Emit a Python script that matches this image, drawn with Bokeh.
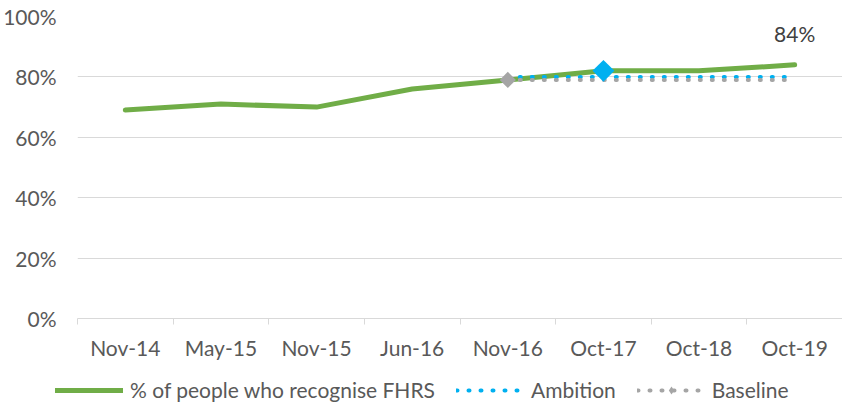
from bokeh.plotting import figure
from bokeh.layouts import column
from bokeh.models import Range1d, FixedTicker, Legend, LegendItem, Label
from bokeh.embed import file_html
from bokeh.resources import INLINE
import math

# ---- data ----
categories = ["Nov-14", "May-15", "Nov-15", "Jun-16", "Nov-16", "Oct-17", "Oct-18", "Oct-19"]
recognise = [69, 71, 70, 76, 79, 82, 82, 84]
target_categories = ["Nov-16", "Oct-17", "Oct-18", "Oct-19"]
ambition = [80, 80, 80, 80]
baseline = [79, 79, 79, 79]
highlight_category = "Oct-17"
y_ticks = [0, 20, 40, 60, 80, 100]
series_names = ["% of people who recognise FHRS", "Ambition", "Baseline"]

FONT = "Lato"
FS = "21px"
GREEN = "#70AD47"
BLUE = "#00B0F0"
GREY = "#A5A5A5"
TXT = "#595959"
GRID = "#D9D9D9"

def xpos(cat):
    return categories.index(cat) + 0.5

x_all = [xpos(c) for c in categories]
x_target = [xpos(c) for c in target_categories]

p = figure(width=842, height=372, output_backend="svg", toolbar_location=None,
           x_range=Range1d(0, len(categories)), y_range=Range1d(0, 100),
           min_border_left=77, min_border_right=0, min_border_top=16, min_border_bottom=54)
p.outline_line_color = None
p.xgrid.grid_line_color = None
p.ygrid.grid_line_color = GRID
p.ygrid.grid_line_width = 1

# x axis: ticks at category boundaries, labels at centres
xa = p.xaxis[0]
xa.ticker = FixedTicker(ticks=x_all, minor_ticks=list(range(len(categories) + 1)))
xa.major_label_overrides = {x: c for x, c in zip(x_all, categories)}
xa.axis_line_color = GRID
xa.major_tick_line_color = None
xa.major_tick_out = 6
xa.major_tick_in = 0
xa.minor_tick_line_color = GRID
xa.minor_tick_out = 6
xa.minor_tick_in = 0
xa.major_label_standoff = 10
xa.major_label_text_font = FONT
xa.major_label_text_font_size = FS
xa.major_label_text_color = TXT

ya = p.yaxis[0]
ya.ticker = FixedTicker(ticks=y_ticks)
ya.major_label_overrides = {t: f"{t}%" for t in y_ticks}
ya.axis_line_color = None
ya.major_tick_line_color = None
ya.minor_tick_line_color = None
ya.major_tick_out = 0
ya.major_label_standoff = 21
ya.major_label_text_font = FONT
ya.major_label_text_font_size = FS
ya.major_label_text_color = TXT

p.line(x_all, recognise, line_color=GREEN, line_width=5, line_cap="round", line_join="round")
p.line(x_target, ambition, line_color=BLUE, line_width=4, line_cap="round", line_dash="1 11")
p.line(x_target, baseline, line_color=GREY, line_width=4, line_cap="round", line_dash="1 11")
p.scatter([x_target[0]], [baseline[0]], marker="square", angle=math.pi / 4, size=11.5,
          fill_color=GREY, line_color=None)
hi = categories.index(highlight_category)
p.scatter([x_all[hi]], [recognise[hi]], marker="square", angle=math.pi / 4, size=15.5,
          fill_color=BLUE, line_color=None)

p.add_layout(Label(x=x_all[-1], y=recognise[-1], text=f"{recognise[-1]}%", y_offset=31,
                   text_align="center", text_baseline="middle", text_font=FONT,
                   text_font_size=FS, text_color="#404040"))

# ---- legend strip (its series sit outside its ranges; only the legend shows) ----
q = figure(frame_width=842, frame_height=32, output_backend="svg", toolbar_location=None,
           x_range=Range1d(0, 0.1), y_range=Range1d(0, 0.1),
           x_axis_location=None, y_axis_location=None,
           min_border_left=0, min_border_right=0, min_border_top=0, min_border_bottom=0)
q.outline_line_color = None
q.grid.visible = False
lg_green = q.line(x_all, recognise, line_color=GREEN, line_width=5, line_cap="round")
lg_amb = q.line(x_target, ambition, line_color=BLUE, line_width=4, line_cap="round", line_dash="1 11")
lg_base = q.line(x_target, baseline, line_color=GREY, line_width=4, line_cap="round", line_dash="1 11")
lg_base_m = q.scatter([x_target[0]], [baseline[0]], marker="diamond", size=17,
                      fill_color=GREY, line_color=None)

legend = Legend(items=[
    LegendItem(label=series_names[0], renderers=[lg_green]),
    LegendItem(label=series_names[1], renderers=[lg_amb]),
    LegendItem(label=series_names[2], renderers=[lg_base, lg_base_m]),
], orientation="horizontal", location=(55, 2), glyph_width=68, glyph_height=20,
    label_standoff=7, spacing=21, padding=0, margin=0,
    label_text_font=FONT, label_text_font_size=FS, label_text_color=TXT,
    border_line_color=None, background_fill_alpha=0)
q.add_layout(legend, "center")

open("out.html", "w").write(file_html(column(p, q, spacing=0), INLINE))
